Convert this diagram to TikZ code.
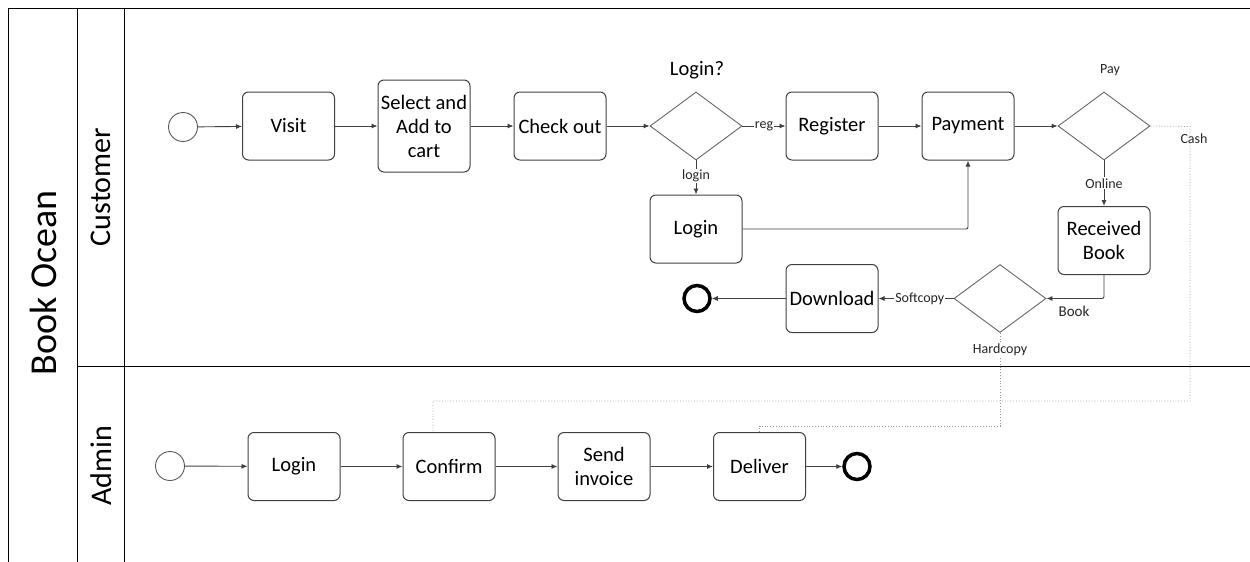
\documentclass[tikz,border=0pt]{standalone}
\usepackage{fontspec}
\setmainfont{Carlito}
\usetikzlibrary{shapes.geometric,arrows.meta}
\begin{document}
\begin{tikzpicture}[x=1pt,y=-1pt,
  lane/.style={draw=black,line width=1pt},
  task/.style={draw=black!75,line width=1pt,rounded corners=6pt,minimum width=92pt,minimum height=68pt,align=center,inner sep=1pt,font=\fontsize{20.5}{24}\selectfont},
  gate/.style={draw=black!60,line width=0.9pt,diamond,minimum width=92pt,minimum height=68pt,inner sep=0pt,aspect=1.35},
  startev/.style={draw=black!65,line width=0.9pt,circle,minimum size=29pt,inner sep=0pt},
  endev/.style={draw=black,line width=3.5pt,circle,minimum size=26pt,inner sep=0pt},
  flow/.style={draw=black!75,line width=0.9pt,-{Latex[length=6pt,width=5pt]}},
  msg/.style={draw=black!40,line width=0.8pt,dotted},
  small/.style={font=\fontsize{14}{16}\selectfont,text=black!85,inner sep=1pt},
  onl/.style={small,fill=white},
  big/.style={font=\fontsize{20.5}{24}\selectfont}
]
\useasboundingbox (0,0) rectangle (1250,562);
% pool and lanes
\draw[lane] (8,562) -- (8,8) -- (1250,8);
\draw[lane] (77,8) -- (77,562);
\draw[lane] (124,8) -- (124,562);
\draw[lane] (77,366) -- (1250,366);
\node[rotate=90,font=\fontsize{38}{42}\selectfont] (pool) at (43,283) {Book Ocean};
\node[rotate=90,font=\fontsize{30}{34}\selectfont] (lc) at (101,187) {Customer};
\node[rotate=90,font=\fontsize{30}{34}\selectfont] (la) at (101,466) {Admin};
% customer lane
\node[startev] (s1) at (183,127) {};
\node[task] (visit) at (288.5,126) {Visit};
\node[task,minimum height=92pt] (select) at (424,126) {Select and\\Add to\\cart};
\node[task] (check) at (560,126) {Check out};
\node[gate] (lq) at (696,126) {};
\node[big] (lql) at (697,70) {Login?};
\node[task] (reg) at (832,126) {Register};
\node[task] (clogin) at (696,229) {Login};
\node[task] (pay) at (968,126) {Payment};
\node[gate] (payg) at (1104,126) {};
\node[small] (payl) at (1110,70) {Pay};
\node[task] (recv) at (1104,240.5) {Received\\Book};
\node[gate] (bookg) at (1000,298.5) {};
\node[task] (down) at (832,298.5) {Download};
\node[endev] (e1) at (697,298.5) {};
% admin lane
\node[startev] (s2) at (170,466) {};
\node[task] (alogin) at (294,466.5) {Login};
\node[task] (conf) at (449,466.5) {Confirm};
\node[task] (send) at (604,466.5) {Send\\invoice};
\node[task] (deliv) at (759.5,466.5) {Deliver};
\node[endev] (e2) at (857,466.5) {};
% flows customer
\draw[flow] (s1) -- (visit);
\draw[flow] (visit) -- (select);
\draw[flow] (select) -- (check);
\draw[flow] (check) -- (lq.west);
\draw[flow] (lq.east) -- node[onl] (regl) {reg} (reg);
\draw[flow] (lq.south) -- node[onl,pos=0.45] (logl) {login} (clogin);
\draw[flow] (reg) -- (pay);
\draw[flow,rounded corners=2pt] (clogin.east) -| (pay.south);
\draw[flow] (pay) -- (payg.west);
\draw[flow] (payg.south) -- node[onl,pos=0.5] (onll) {Online} (recv);
\draw[flow,rounded corners=2pt] (recv.south) |- (bookg.east);
\node[small,font=\fontsize{15}{17}\selectfont] (bookl) at (1074,311) {Book};
\draw[flow] (bookg.west) -- node[onl,pos=0.45] (softl) {Softcopy} (down);
\draw[flow] (down) -- (e1);
% flows admin
\draw[flow] (s2) -- (alogin);
\draw[flow] (alogin) -- (conf);
\draw[flow] (conf) -- (send);
\draw[flow] (send) -- (deliv);
\draw[flow] (deliv) -- (e2);
% message (dotted) flows
\coordinate (c1) at (1190,126.5);
\coordinate (c2) at (1190,401);
\coordinate (c3) at (433,401);
\draw[msg] (payg.east) -- (c1) -- (c2) -- (c3) -- (conf.north -| c3);
\node[small] (cashl) at (1194,139) {Cash};
\coordinate (h1) at (1000,426);
\draw[msg] (bookg.south) -- (h1) -| (deliv.north);
\node[onl] (hardl) at (1000,350) {Hardcopy};
\end{tikzpicture}
\end{document}
